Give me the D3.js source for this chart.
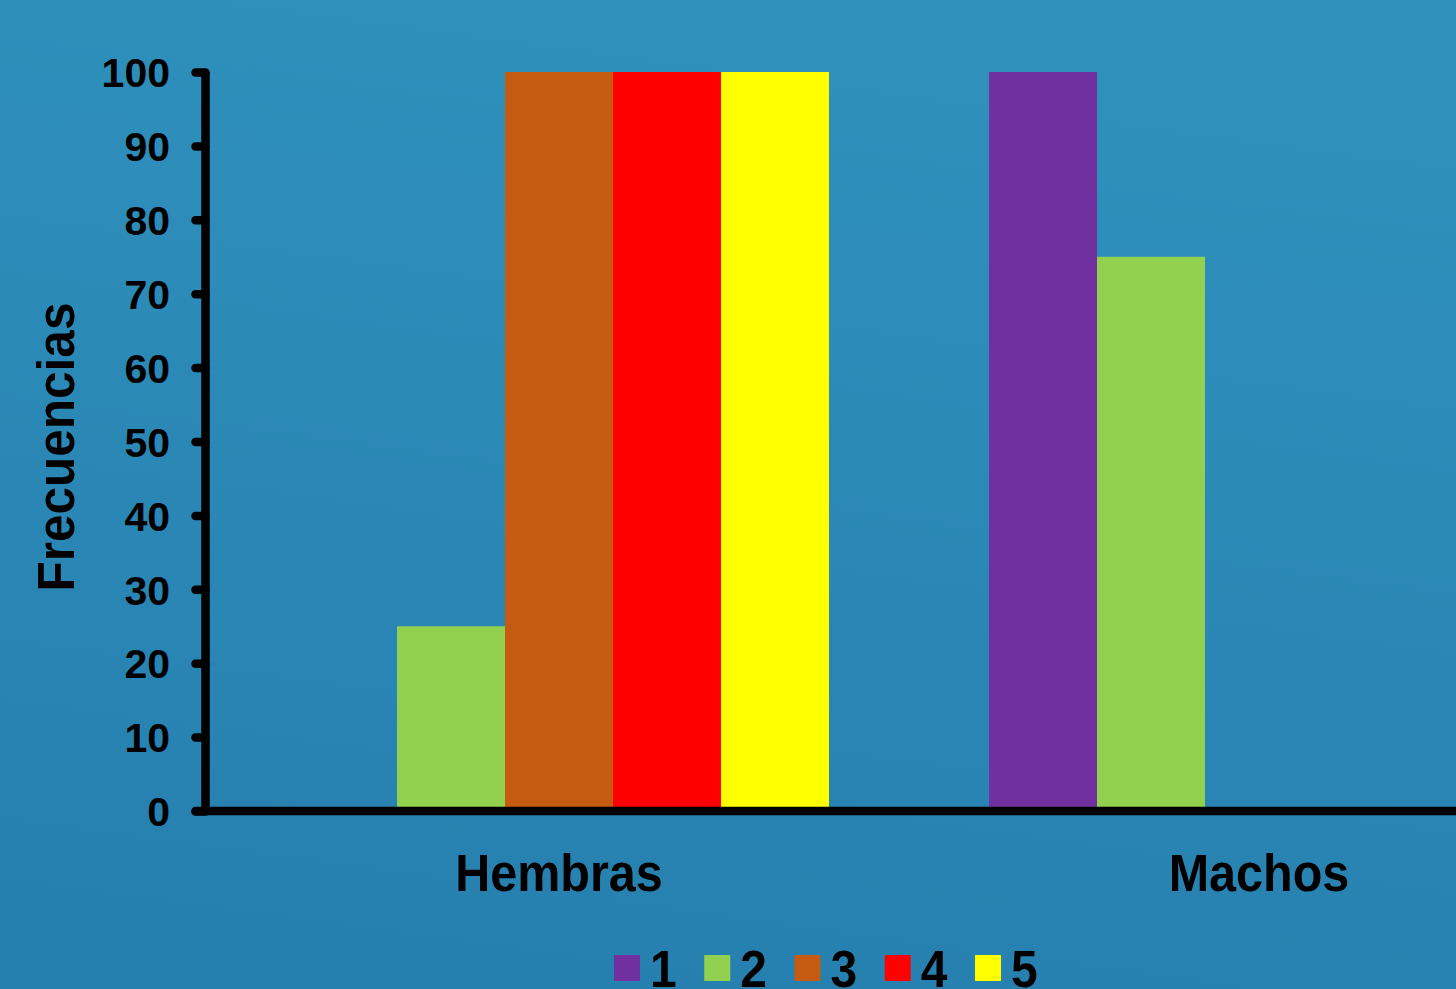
<!DOCTYPE html>
<html>
<head>
<meta charset="utf-8">
<script src="https://cdn.jsdelivr.net/npm/d3@7"></script>
<style>
  html, body { margin: 0; padding: 0; overflow: hidden; }
  svg { display: block; }
  text { font-family: "Liberation Sans", Arial, sans-serif; font-weight: bold; fill: #000; }
</style>
</head>
<body>
<svg id="chart" width="1456" height="989"></svg>
<script>
const categories = ["Hembras", "Machos"];
const seriesNames = ["1", "2", "3", "4", "5"];
const seriesColors = ["#7030A0", "#92D050", "#C55A11", "#FF0000", "#FFFF00"];
const hembrasValues = [0, 25, 100, 100, 100];
const machosValues = [100, 75, 0, 0, 0];
const yTicks = [0, 10, 20, 30, 40, 50, 60, 70, 80, 90, 100];
const yAxisTitle = "Frecuencias";

const valuesByCategory = [hembrasValues, machosValues];
const W = 1456, H = 989;
const svg = d3.select("#chart");

// background gradient
const defs = svg.append("defs");
const grad = defs.append("linearGradient").attr("id", "bg")
  .attr("x1", "0.6").attr("y1", "0").attr("x2", "0.4").attr("y2", "1");
grad.append("stop").attr("offset", "0").attr("stop-color", "#3091bd");
grad.append("stop").attr("offset", "1").attr("stop-color", "#2680af");
svg.append("rect").attr("width", W).attr("height", H).attr("fill", "url(#bg)");

const y = d3.scaleLinear().domain([0, 100]).range([811, 72]);
const x0 = d3.scaleBand().domain(categories).range([209, 1609])
  .paddingInner(0.2286).paddingOuter(0.1143);
const x1 = d3.scaleBand().domain(seriesNames).range([0, x0.bandwidth()]);

// bars
const groups = svg.append("g").selectAll("g")
  .data(categories.map((c, i) => ({ cat: c, vals: valuesByCategory[i] })))
  .join("g")
  .attr("transform", d => `translate(${x0(d.cat)},0)`);
groups.selectAll("rect")
  .data(d => d.vals.map((v, j) => ({ key: seriesNames[j], v, color: seriesColors[j] })))
  .join("rect")
  .filter(d => d.v > 0)
  .attr("x", d => x1(d.key))
  .attr("width", x1.bandwidth())
  .attr("y", d => y(d.v))
  .attr("height", d => y(0) - y(d.v))
  .attr("fill", d => d.color);

// y axis
const axisX = 205.5;
const yAxis = d3.axisLeft(y).tickValues(yTicks).tickSize(10).tickPadding(0).tickFormat(d3.format("d"));
const gy = svg.append("g").attr("transform", `translate(${axisX},0)`).call(yAxis);
gy.select(".domain").remove();
gy.selectAll(".tick line").attr("stroke", "#000").attr("stroke-width", 8.5).attr("stroke-linecap", "round");
gy.selectAll(".tick text").attr("x", -35.5).attr("dy", "0.36em").style("font-size", "41px")
  .attr("text-anchor", "end").attr("fill", "#000");
svg.append("line").attr("x1", axisX).attr("x2", axisX).attr("y1", y(100)).attr("y2", y(0))
  .attr("stroke", "#000").attr("stroke-width", 8.5);

// x axis
const xAxis = d3.axisBottom(x0).tickSize(0).tickPadding(0);
const gx = svg.append("g").attr("transform", `translate(0,${y(0)})`).call(xAxis);
gx.select(".domain").remove();
gx.selectAll(".tick text").remove();
svg.append("line").attr("x1", axisX - 10).attr("x2", W + 10).attr("y1", y(0)).attr("y2", y(0))
  .attr("stroke", "#000").attr("stroke-width", 8.5).attr("stroke-linecap", "round");
gx.selectAll(".tick").append("text")
  .attr("transform", "translate(0,80) scale(1,1.08)")
  .attr("text-anchor", "middle")
  .style("font-size", "48.5px")
  .text(d => d);

// y axis title
svg.append("text")
  .attr("transform", "translate(74,447) rotate(-90) scale(1,1.04)")
  .attr("text-anchor", "middle")
  .style("font-size", "49.5px")
  .text(yAxisTitle);

// legend
const legendX = d3.scalePoint().domain(seriesNames).range([614, 975]);
const lg = svg.append("g").selectAll("g").data(seriesNames).join("g")
  .attr("transform", d => `translate(${legendX(d)},955)`);
lg.append("rect").attr("width", 26).attr("height", 26)
  .attr("fill", (d, i) => seriesColors[i]);
lg.append("text").attr("transform", "translate(36,32) scale(1,1.08)")
  .style("font-size", "48px").text(d => d);
</script>
</body>
</html>
